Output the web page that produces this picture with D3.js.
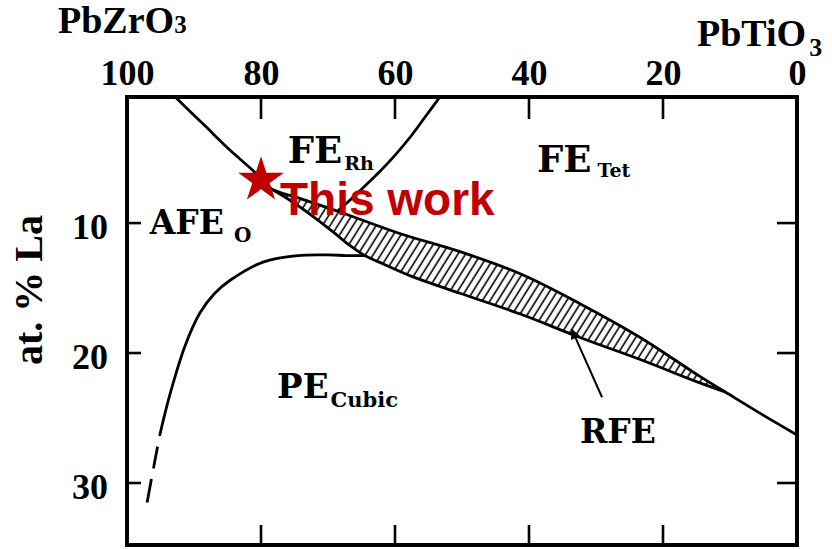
<!DOCTYPE html>
<html>
<head>
<meta charset="utf-8">
<script src="https://cdn.jsdelivr.net/npm/d3@7"></script>
<style>
  body { margin: 0; background: #fff; }
  .tick text { font-family: "Liberation Serif", "Times New Roman", serif; font-weight: bold; font-size: 36px; fill: #000; }
  .region { font-family: "DejaVu Serif", serif; font-weight: bold; fill: #000; }
</style>
</head>
<body>
<svg id="chart" width="832" height="549"></svg>
<script>
// PLZT phase diagram: x = mol% PbZrO3 (100 left -> 0 right), y = at.% La (down)
const xTicks = [100, 80, 60, 40, 20, 0];
const yTicks = [10, 20, 30];

// AFE / FE(Rh) boundary, from the top edge to the tip of the RFE band
const afeBoundary = [[92.8, 0.3], [88.4, 2.5], [84.6, 4.4], [80.9, 6.1], [78.7, 7.3]];
// relaxor (RFE) band: upper and lower edges
const rfeUpper = [[78.7, 7.3], [74.2, 8.1], [68.2, 9.15], [59.3, 10.8], [50.3, 12.2], [41.3, 13.9],
                  [32.4, 16.2], [23.4, 18.8], [14.5, 21.8], [10.7, 23.0]];
const rfeLower = [[78.7, 7.3], [75.5, 8.3], [72.2, 9.5], [69.2, 10.7], [66.8, 11.7], [64.5, 12.5],
                  [61.5, 13.2], [57.5, 14.1], [50.3, 15.4], [41.3, 17.0], [32.4, 18.8], [23.4, 20.5],
                  [14.5, 22.3], [10.7, 23.0]];
// FE(Tet) / PE boundary beyond the band
const tetBoundary = [[10.7, 23.0], [5.3, 24.7], [0, 26.3]];
// FE(Rh) / FE(Tet) boundary
const rhTetBoundary = [[53.3, 0.3], [55.4, 1.76], [57.6, 3.3], [59.85, 4.69], [62.2, 6.0],
                       [64.8, 7.3], [66.7, 8.22], [68.4, 9.0]];
// AFE / PE boundary (solid) and its uncertain continuation (dashed)
const peBoundary = [[95.1, 26.3], [93.6, 23.2], [91.3, 19.4], [89.1, 16.9], [86.9, 15.4], [84.6, 14.4],
                    [79.7, 13.0], [74.5, 12.5], [70.0, 12.45], [67.2, 12.5], [64.5, 12.5]];
const peDashed = [[95.1, 26.3], [96.1, 29.0], [97.0, 31.5]];

const thisWork = [80, 6.7];
const rfeArrow = [[29.1, 23.4], [33.6, 18.2]];

// phase labels: main text, subscript, anchor in data units
const phaseLabels = [
  { main: "FE", sub: "Rh", at: [76.0, 5.38], size: 37, subSize: 19, dx: 2, dy: 7 },
  { main: "FE", sub: "Tet", at: [38.8, 6.08], size: 37, subSize: 19, dx: 6, dy: 5 },
  { main: "AFE", sub: "O", at: [96.6, 10.85], size: 33, subSize: 20, dx: 10, dy: 8 },
  { main: "PE", sub: "Cubic", at: [77.6, 23.46], size: 34, subSize: 21, dx: 2, dy: 9 },
  { main: "RFE", sub: "", at: [32.4, 26.9], size: 33, subSize: 0, dx: 0, dy: 0 }
];

const svg = d3.select("#chart");

const x = d3.scaleLinear().domain([100, 0]).range([127, 797]);
const y = d3.scaleLinear().domain([0.3, 34.77]).range([97, 545]);
const [x0, x1] = x.range();
const [y0, y1] = y.range();

const defs = svg.append("defs");
defs.append("pattern")
  .attr("id", "hatch")
  .attr("patternUnits", "userSpaceOnUse")
  .attr("width", 6.5).attr("height", 10)
  .attr("patternTransform", "rotate(32)")
  .append("line")
  .attr("x1", 3).attr("y1", 0).attr("x2", 3).attr("y2", 10)
  .attr("stroke", "#000").attr("stroke-width", 1.6);

defs.append("marker")
  .attr("id", "arrowHead")
  .attr("viewBox", "0 0 10 10")
  .attr("refX", 9).attr("refY", 5)
  .attr("markerWidth", 6).attr("markerHeight", 5)
  .attr("markerUnits", "strokeWidth")
  .attr("orient", "auto")
  .append("path").attr("d", "M0,0 L10,5 L0,10 Z").attr("fill", "#000");

const line = d3.line()
  .x(d => x(d[0])).y(d => y(d[1]))
  .curve(d3.curveCatmullRom.alpha(0.5));

// hatched RFE band
const bandPoly = rfeUpper.concat(rfeLower.slice().reverse());
svg.append("path")
  .attr("d", d3.line().x(d => x(d[0])).y(d => y(d[1])).curve(d3.curveLinearClosed)(bandPoly))
  .attr("fill", "url(#hatch)");

const curveStyle = g => g.attr("fill", "none").attr("stroke", "#000").attr("stroke-width", 2.8)
  .attr("stroke-linecap", "round").attr("stroke-linejoin", "round");

svg.append("path").attr("d", line(afeBoundary.concat(rfeUpper.slice(1)).concat(tetBoundary.slice(1)))).call(curveStyle);
svg.append("path").attr("d", line(rfeLower)).call(curveStyle);
svg.append("path").attr("d", line(rhTetBoundary)).call(curveStyle);
svg.append("path").attr("d", line(peBoundary)).call(curveStyle);
svg.append("path").attr("d", line(peDashed)).call(curveStyle)
  .attr("stroke-linecap", "butt")
  .attr("stroke-dasharray", "0,12,22,11,24,40");

// tick labels on top and left
const axTop = svg.append("g").attr("transform", `translate(0,${y0})`)
  .call(d3.axisTop(x).tickValues(xTicks).tickSize(0).tickPadding(12));
const axLeft = svg.append("g").attr("transform", `translate(${x0},0)`)
  .call(d3.axisLeft(y).tickValues(yTicks).tickSize(0).tickPadding(19));
[axTop, axLeft].forEach(g => { g.select(".domain").remove(); g.selectAll(".tick line").remove(); });
axLeft.selectAll(".tick text").attr("dy", "0.42em");

// inward tick marks on all four sides
const ticks = svg.append("g").attr("stroke", "#000").attr("stroke-width", 2.6);
const innerX = xTicks.slice(1, -1);
ticks.selectAll(".tt").data(innerX).join("line")
  .attr("x1", d => x(d)).attr("x2", d => x(d)).attr("y1", y0).attr("y2", y0 + 22);
ticks.selectAll(".tb").data(innerX).join("line")
  .attr("x1", d => x(d)).attr("x2", d => x(d)).attr("y1", y1).attr("y2", y1 - 20);
ticks.selectAll(".tl").data(yTicks).join("line")
  .attr("x1", x0).attr("x2", x0 + 14).attr("y1", d => y(d)).attr("y2", d => y(d));
ticks.selectAll(".tr").data(yTicks).join("line")
  .attr("x1", x1).attr("x2", x1 - 20).attr("y1", d => y(d)).attr("y2", d => y(d));

// plot frame
svg.append("rect")
  .attr("x", x0).attr("y", y0)
  .attr("width", x1 - x0).attr("height", y1 - y0)
  .attr("fill", "none").attr("stroke", "#000").attr("stroke-width", 4);

// end-member titles
const serifBold = t => t.attr("font-family", "Liberation Serif, Times New Roman, serif").attr("font-weight", "bold").attr("fill", "#000");
const pz = svg.append("text").attr("x", 58).attr("y", 33).call(serifBold).attr("font-size", 38);
pz.append("tspan").text("PbZrO");
pz.append("tspan").attr("font-size", 25).text("3");
const pt = svg.append("text").attr("x", 697).attr("y", 46).call(serifBold).attr("font-size", 38);
pt.append("tspan").text("PbTiO");
pt.append("tspan").attr("font-size", 26).attr("dx", 3).attr("dy", 10).text("3");

// y-axis title
svg.append("text")
  .attr("transform", `translate(42,${(y(10) + y(20)) / 2 + 2}) rotate(-90)`)
  .attr("text-anchor", "middle")
  .call(serifBold).attr("font-size", 40)
  .text("at. % La");

// phase labels
phaseLabels.forEach(l => {
  const t = svg.append("text").attr("class", "region")
    .attr("x", x(l.at[0])).attr("y", y(l.at[1])).attr("font-size", l.size);
  t.append("tspan").text(l.main);
  if (l.sub) t.append("tspan").attr("font-size", l.subSize).attr("dx", l.dx).attr("dy", l.dy).text(l.sub);
});

// arrow pointing into the RFE band
svg.append("path")
  .attr("d", d3.line().x(d => x(d[0])).y(d => y(d[1]))(rfeArrow))
  .attr("stroke", "#000").attr("stroke-width", 2).attr("fill", "none")
  .attr("marker-end", "url(#arrowHead)");

// composition studied here
svg.append("path")
  .attr("transform", `translate(${x(thisWork[0])},${y(thisWork[1])})`)
  .attr("d", d3.symbol(d3.symbolStar, 24 * 24 / 0.8908130915)())
  .attr("fill", "#c00000");
svg.append("text")
  .attr("x", x(thisWork[0]) + 19).attr("y", y(thisWork[1]) + 35)
  .attr("font-family", "Liberation Sans, Arial, sans-serif").attr("font-weight", "bold")
  .attr("font-size", 46).attr("fill", "#c00000")
  .text("This work");
</script>
</body>
</html>
